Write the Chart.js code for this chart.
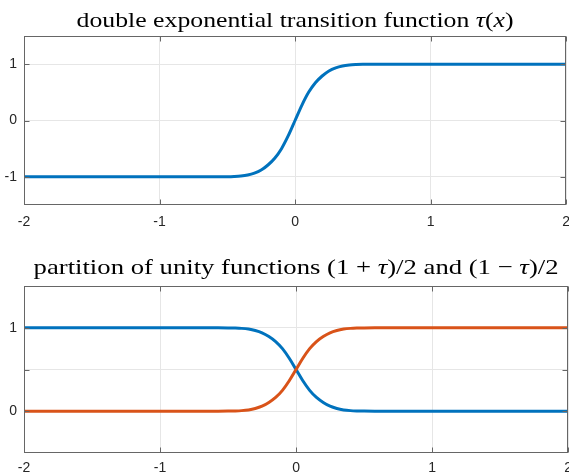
<!DOCTYPE html>
<html>
<head>
<meta charset="utf-8">
<script src="https://cdn.jsdelivr.net/npm/chart.js@4.4.0/dist/chart.umd.min.js"></script>
<style>
    body { margin: 0; background: #fff; overflow: hidden; width: 569px; height: 475px; }
    canvas { display: block; }
</style>
</head>
<body>
<canvas id="tauChart" width="579" height="240"></canvas>
<canvas id="pouChart" width="579" height="235"></canvas>
<script>

// sample points of the transition function
var xVals = [-2, -1.5, -1, -0.7, -0.6, -0.5, -0.45, -0.4, -0.35, -0.3, -0.25, -0.2, -0.15, -0.1, -0.05,
             0, 0.05, 0.1, 0.15, 0.2, 0.25, 0.3, 0.35, 0.4, 0.45, 0.5, 0.6, 0.7, 1, 1.5, 2];
var tauVals = [-1, -1, -1, -1, -0.999, -0.997, -0.993, -0.985, -0.968, -0.935, -0.88, -0.79, -0.67, -0.5, -0.27,
               0, 0.27, 0.5, 0.67, 0.79, 0.88, 0.935, 0.968, 0.985, 0.993, 0.997, 0.999, 1, 1, 1, 1];

// (1 - tau)/2 and (1 + tau)/2
var downVals = [1, 1, 1, 1, 0.9995, 0.9985, 0.9965, 0.9925, 0.984, 0.9675, 0.94, 0.895, 0.835, 0.75, 0.635,
                0.5, 0.365, 0.25, 0.165, 0.105, 0.06, 0.0325, 0.016, 0.0075, 0.0035, 0.0015, 0.0005, 0, 0, 0, 0];
var upVals = [0, 0, 0, 0, 0.0005, 0.0015, 0.0035, 0.0075, 0.016, 0.0325, 0.06, 0.105, 0.165, 0.25, 0.365,
              0.5, 0.635, 0.75, 0.835, 0.895, 0.94, 0.9675, 0.984, 0.9925, 0.9965, 0.9985, 0.9995, 1, 1, 1, 1];

var xTicks = [-2, -1, 0, 1, 2];
var tauTicks = [-1, 0, 1];
var tauTickLabels = ['-1', '0', '1'];
var pouTicks = [0, 0.5, 1];
var pouTickLabels = ['0', '', '1'];

// title pieces: [text, italic]
var tauTitle = [['double exponential transition function ', false], ['\u03C4', true], ['(', false], ['x', true], [')', false]];
var pouTitle = [['partition of unity functions (1 + ', false], ['\u03C4', true], [')/2 and (1 \u2212 ', false], ['\u03C4', true], [')/2', false]];

var blue = '#0072BD';
var orange = '#D95319';
var frameColor = '#666666';
var labelColor = '#262626';
var gridColor = '#e6e6e6';

function points(ys) {
    return xVals.map(function (x, i) { return { x: x, y: ys[i] }; });
}

// box around the axes, inward tick marks and a title with italic math parts
function frameAndTitle(parts, baseline, titleWidth) {
    return {
        id: 'frameAndTitle',
        afterDraw: function (chart) {
            var ctx = chart.ctx, a = chart.chartArea;
            var xs = chart.scales.x, ys = chart.scales.y;
            var L = Math.round(a.left) + 0.5, R = Math.round(a.right) - 0.5;
            var T = Math.round(a.top) + 0.5, B = Math.round(a.bottom) - 0.5;
            ctx.save();
            ctx.strokeStyle = frameColor;
            ctx.lineWidth = 1;
            ctx.beginPath();
            xs.ticks.forEach(function (t) {
                var px = Math.round(xs.getPixelForValue(t.value)) + 0.5;
                ctx.moveTo(px, B); ctx.lineTo(px, B - 5);
                ctx.moveTo(px, T); ctx.lineTo(px, T + 5);
            });
            ys.ticks.forEach(function (t) {
                var py = Math.round(ys.getPixelForValue(t.value)) + 0.5;
                ctx.moveTo(L, py); ctx.lineTo(L + 5, py);
                ctx.moveTo(R, py); ctx.lineTo(R - 5, py);
            });
            ctx.stroke();
            ctx.strokeRect(L, T, R - L, B - T);

            var size = 22, total = 0;
            parts.forEach(function (p) {
                ctx.font = (p[1] ? 'italic ' : '') + size + 'px "Liberation Serif"';
                total += ctx.measureText(p[0]).width;
            });
            ctx.fillStyle = '#000';
            ctx.textBaseline = 'alphabetic';
            ctx.translate((a.left + a.right) / 2 - titleWidth / 2, baseline);
            ctx.scale(titleWidth / total, 1);
            var x = 0;
            parts.forEach(function (p) {
                ctx.font = (p[1] ? 'italic ' : '') + size + 'px "Liberation Serif"';
                ctx.fillText(p[0], x, 0);
                x += ctx.measureText(p[0]).width;
            });
            ctx.restore();
        }
    };
}

function axes(yMin, yMax, yTicks, yLabels, xAxisHeight, xPad) {
    var tickFont = { family: '"Liberation Sans", Arial, sans-serif', size: 14 };
    return {
        x: {
            type: 'linear', min: -2, max: 2,
            afterBuildTicks: function (s) { s.ticks = xTicks.map(function (v) { return { value: v }; }); },
            afterFit: function (s) { s.height = xAxisHeight; },
            grid: { color: gridColor, drawTicks: false },
            border: { display: false },
            ticks: { color: labelColor, font: tickFont, padding: xPad, maxRotation: 0, autoSkip: false,
                      callback: function (v) { return String(v); } }
        },
        y: {
            type: 'linear', min: yMin, max: yMax,
            afterBuildTicks: function (s) { s.ticks = yTicks.map(function (v) { return { value: v }; }); },
            afterFit: function (s) { s.width = 24; },
            grid: { color: gridColor, drawTicks: false },
            border: { display: false },
            ticks: { color: labelColor, font: tickFont, padding: 7, autoSkip: false,
                      callback: function (v) { return yLabels[yTicks.indexOf(v)]; } }
        }
    };
}

var common = {
    responsive: false,
    animation: false,
    plugins: { legend: { display: false }, tooltip: { enabled: false } },
    elements: { point: { radius: 0 }, line: { borderWidth: 3, cubicInterpolationMode: 'monotone' } }
};

new Chart(document.getElementById('tauChart'), {
    type: 'line',
    data: {
        datasets: [{ data: points(tauVals), borderColor: blue, fill: false }]
    },
    options: Object.assign({}, common, {
        layout: { padding: { top: 36, left: 0, right: 0, bottom: 0 } },
        scales: axes(-1.5, 1.5, tauTicks, tauTickLabels, 35, 9)
    }),
    plugins: [frameAndTitle(tauTitle, 27, 437)]
});

new Chart(document.getElementById('pouChart'), {
    type: 'line',
    data: {
        datasets: [
            { data: points(upVals), borderColor: orange, fill: false, order: 0 },
            { data: points(downVals), borderColor: blue, fill: false, order: 1 }
        ]
    },
    options: Object.assign({}, common, {
        layout: { padding: { top: 46, left: 0, right: 0, bottom: 0 } },
        scales: axes(-0.5, 1.5, pouTicks, pouTickLabels, 22, 7)
    }),
    plugins: [frameAndTitle(pouTitle, 34, 525)]
});
</script>
</body>
</html>
